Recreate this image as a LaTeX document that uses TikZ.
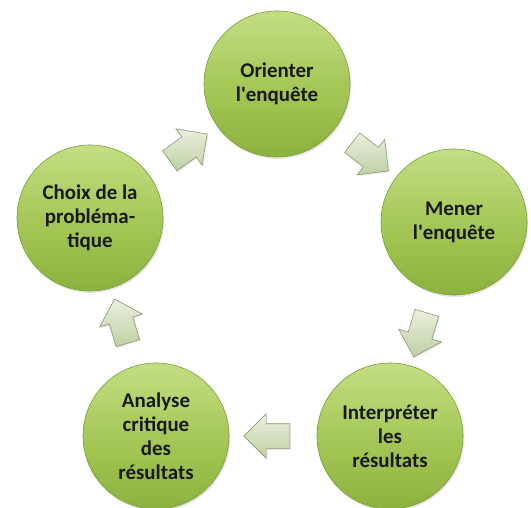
\documentclass[tikz,border=0pt]{standalone}
\usepackage{fontspec}
\setmainfont{Carlito}[Ligatures=TeXOff]
\usetikzlibrary{shapes.arrows,shadows,calc}
\definecolor{gTop}{RGB}{196,222,132}
\definecolor{gMid}{RGB}{166,200,88}
\definecolor{gBot}{RGB}{140,178,62}
\definecolor{gEdge}{RGB}{122,158,55}
\definecolor{aTop}{RGB}{234,241,222}
\definecolor{aBot}{RGB}{190,208,164}
\definecolor{aEdge}{RGB}{135,152,115}
\tikzset{
  stage/.style={circle, minimum size=146bp, inner sep=0pt, align=center,
    top color=gTop, bottom color=gBot, middle color=gMid, draw=gEdge, line width=0.6bp,
    drop shadow={opacity=0.2, shadow xshift=1bp, shadow yshift=-2bp},
    font=\bfseries\fontsize{21}{24}\selectfont, text=black!90},
  cyclearrow/.style={single arrow, minimum height=46bp, minimum width=44bp,
    single arrow head extend=10bp, inner sep=0pt, text width=0pt,
    text height=12bp, text depth=12bp,
    top color=aTop, bottom color=aBot, draw=aEdge, line width=0.6bp, shading angle=0,
    drop shadow={opacity=0.15, shadow xshift=1bp, shadow yshift=-1.5bp}}
}
\newcommand{\flowarrow}[3]{%
  \path let \p1=(#1), \p2=(#2), \n1={atan2(\y2-\y1,\x2-\x1)} in
    node[cyclearrow, rotate=\n1] (#3) at ($(#1)!0.5!(#2)$) {};}
\begin{document}
\begin{tikzpicture}[x=1bp,y=-1bp]
\useasboundingbox[fill=white] (0,0) rectangle (531,508);
\node[stage] (s1) at (277,84) {Orienter\\l'enquête};
\node[stage] (s2) at (454,222) {Mener\\l'enquête};
\node[stage] (s3) at (390,436) {Interpréter\\les\\résultats};
\node[stage] (s4) at (156,436) {Analyse\\critique\\des\\résultats};
\node[stage] (s5) at (90,218) {Choix de la\\probléma-\\tique};
\flowarrow{s1}{s2}{a12}
\flowarrow{s2}{s3}{a23}
\flowarrow{s3}{s4}{a34}
\flowarrow{s4}{s5}{a45}
\flowarrow{s5}{s1}{a51}
\end{tikzpicture}
\end{document}
